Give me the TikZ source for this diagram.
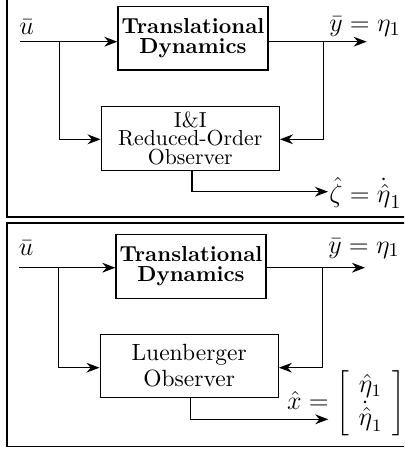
\documentclass[tikz,border=0pt]{standalone}
\usetikzlibrary{arrows.meta}
\begin{document}
\begin{tikzpicture}[x=0.46pt,y=-0.46pt,
  box/.style={draw,line width=0.6pt,inner sep=0pt,align=center},
  conn/.style={line width=0.6pt},
  arr/.style={conn,-{Stealth[length=6pt,width=4.5pt]}},
  frm/.style={line width=0.9pt},
  lbl/.style={inner sep=0pt,font=\fontsize{12.5}{15}\selectfont}]
\useasboundingbox (0,0) rectangle (404,450);
\clip (0,0) rectangle (404,450);
\draw[frm] (7.3,-5) rectangle (430,216.8);
\draw[frm] (7.3,223.3) rectangle (430,446.5);
% ---------- top panel ----------
\node[box,minimum width=69pt,minimum height=29.2pt,font=\bfseries] (td1) at (193,38.4) {Translational\\[-3pt]Dynamics};
\node[box,minimum width=81.9pt,minimum height=29.4pt] (ob1) at (190.3,138.3) {I\&I\\[-3.5pt]Reduced-Order\\[-3.5pt]Observer};
\coordinate (u1) at (20,41.7);
\coordinate (y1) at (366.7,41.7);
\coordinate (bl1) at (59.3,41.7);
\coordinate (br1) at (323.3,41.7);
\coordinate (ox1) at (192,0);
\coordinate (z1) at (328,191.7);
\node[lbl,anchor=base west] (ul1) at (19,35) {$\bar u$};
\node[lbl,anchor=base] (yl1) at (365,32) {$\bar y=\eta_1$};
\node[lbl,anchor=base west] (zl1) at (329,202) {$\hat{\zeta}=\dot{\hat\eta}_1$};
\draw[arr] (u1) -- (u1 -| td1.west);
\draw[arr] (td1.east |- y1) -- (y1);
\draw[arr] (bl1) |- (ob1.west |- 0,139.3);
\draw[arr] (br1) |- (ob1.east |- 0,139.3);
\draw[arr] (ox1 |- ob1.south) |- (z1);
% ---------- bottom panel ----------
\node[box,minimum width=69pt,minimum height=29.4pt,font=\bfseries] (td2) at (191,266.2) {Translational\\[-3pt]Dynamics};
\node[box,minimum width=81.9pt,minimum height=29.2pt,font=\fontsize{10.8}{13}\selectfont] (ob2) at (189.2,366) {Luenberger\\[-1pt]Observer};
\coordinate (u2) at (19.3,267.7);
\coordinate (y2) at (365,267.7);
\coordinate (bl2) at (58.3,267.7);
\coordinate (br2) at (322.7,267.7);
\coordinate (ox2) at (190.7,0);
\coordinate (z2) at (328.3,419.3);
\node[lbl,anchor=base west] (ul2) at (18.5,255) {$\bar u$};
\node[lbl,anchor=base] (yl2) at (364,253) {$\bar y=\eta_1$};
\node[inner sep=0pt,font=\fontsize{11.5}{14}\selectfont] (xl2) at (346,403) {\setlength{\arraycolsep}{4.5pt}$\hat x=\left[\begin{array}{c}\hat\eta_1\\ \dot{\hat\eta}_1\end{array}\right]$};
\draw[arr] (u2) -- (u2 -| td2.west);
\draw[arr] (td2.east |- y2) -- (y2);
\draw[arr] (bl2) |- (ob2.west |- 0,367.7);
\draw[arr] (br2) |- (ob2.east |- 0,367.7);
\draw[arr] (ox2 |- ob2.south) |- (z2);
\end{tikzpicture}
\end{document}
